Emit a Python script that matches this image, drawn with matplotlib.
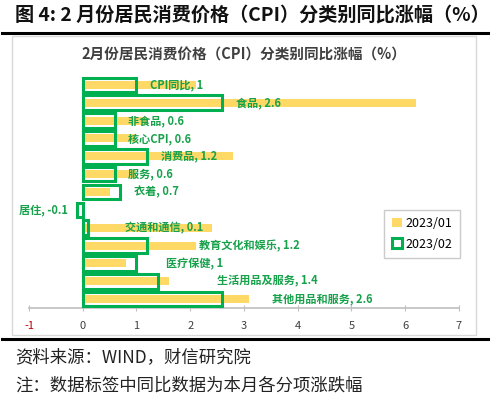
import matplotlib
matplotlib.use("Agg")
import matplotlib.pyplot as plt
from matplotlib.patches import Patch, Rectangle
from matplotlib.lines import Line2D

plt.rcParams['font.family'] = ['Noto Sans CJK SC', 'DejaVu Sans']

categories = ["CPI同比", "食品", "非食品", "核心CPI", "消费品", "服务", "衣着", "居住",
              "交通和通信", "教育文化和娱乐", "医疗保健", "生活用品及服务", "其他用品和服务"]
jan_2023 = [2.1, 6.2, 1.2, 1.0, 2.8, 1.0, 0.5, 0.0, 2.4, 2.1, 0.8, 1.6, 3.1]
feb_2023 = [1, 2.6, 0.6, 0.6, 1.2, 0.6, 0.7, -0.1, 0.1, 1.2, 1, 1.4, 2.6]
series_names = ["2023/01", "2023/02"]
xticks = [-1, 0, 1, 2, 3, 4, 5, 6, 7]

# label placement (left edge in data units;居住 is right-aligned)
label_x = [1.25, 2.86, 0.84, 0.84, 1.45, 0.84, 0.95, -0.28, 0.78, 2.17, 1.54, 2.49, 3.53]

YELLOW = "#FFD966"
GREEN = "#00B050"
LABEL_GREEN = "#17A14B"

fig = plt.figure(figsize=(4.99, 3.97), dpi=100)

# outer title
fig.text(0.03, 0.962, "图 4: 2 月份居民消费价格（CPI）分类别同比涨幅（%）",
         fontsize=13.8, fontweight='bold', color='#111111', va='center', ha='left')
fig.add_artist(Line2D([0.004, 0.978], [0.917, 0.917], color='black', lw=2.2))
fig.add_artist(Line2D([0.004, 0.978], [0.146, 0.146], color='black', lw=2.2))

# chart border
fig.add_artist(Rectangle((0.024, 0.157), 0.93, 0.752, transform=fig.transFigure,
                         fill=False, edgecolor='#D9D9D9', lw=1.0))

fig.text(0.488, 0.862, "2月份居民消费价格（CPI）分类别同比涨幅（%）",
         fontsize=10.5, fontweight='bold', color='#404040', va='center', ha='center')

ax = fig.add_axes([0.0581, 0.2242, 0.8617, 0.5844])
y = list(range(len(categories)))
ax.barh(y, jan_2023, height=0.45, color=YELLOW, zorder=2, label=series_names[0])
ax.barh(y, feb_2023, height=0.82, facecolor='none', edgecolor=GREEN, linewidth=2.2,
        zorder=3, label=series_names[1])

for i, (cat, v) in enumerate(zip(categories, feb_2023)):
    txt = f"{cat}, {v:g}"
    ha = 'right' if v < 0 else 'left'
    ax.text(label_x[i], i, txt, ha=ha, va='center', fontsize=8, fontweight='bold',
            color=LABEL_GREEN, zorder=4)

ax.set_xlim(-1, 7)
ax.set_ylim(len(categories) - 0.5, -0.5)
ax.set_xticks(xticks)
ax.set_xticklabels([str(t) for t in xticks], fontsize=8, color='#404040')
ax.get_xticklabels()[0].set_color('#C00000')
ax.set_yticks([])
for s in ['top', 'right', 'left']:
    ax.spines[s].set_visible(False)
ax.spines['bottom'].set_color('#BFBFBF')
ax.spines['bottom'].set_linewidth(1.2)
ax.tick_params(axis='x', direction='inout', length=5, color='#BFBFBF', pad=7)

handles = [Patch(facecolor=YELLOW, edgecolor='none'),
           Patch(facecolor='white', edgecolor=GREEN, linewidth=2.2)]
leg = fig.legend(handles, series_names, loc='upper left',
                 bbox_to_anchor=(0.758, 0.488), fontsize=9, frameon=True,
                 fancybox=False, edgecolor='#BFBFBF', handlelength=0.8,
                 handleheight=0.8, handletextpad=0.3, borderpad=0.6, labelspacing=0.6)
leg.get_frame().set_linewidth(1.0)

fig.text(0.03, 0.1, "资料来源：WIND，财信研究院", fontsize=12.5, color='#222222',
         style='italic', va='center', ha='left')
fig.text(0.03, 0.03, "注：数据标签中同比数据为本月各分项涨跌幅", fontsize=12.5, color='#222222',
         style='italic', va='center', ha='left')

fig.savefig("out.png", dpi=100)
